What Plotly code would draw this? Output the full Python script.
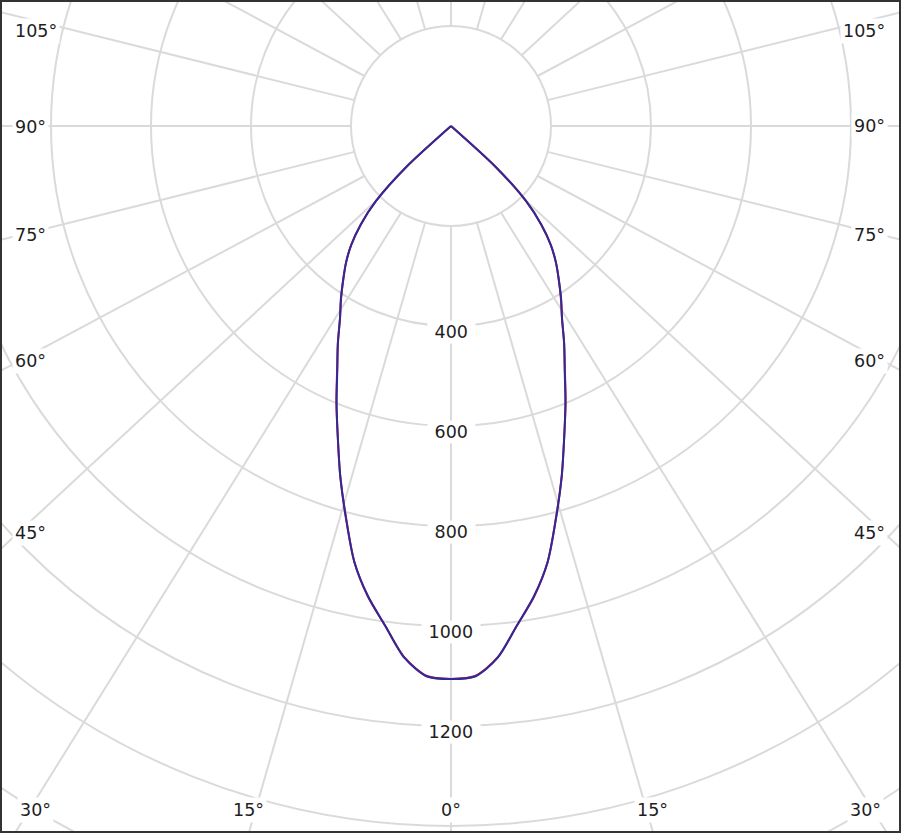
import numpy as np
import plotly.graph_objects as go

# ---------------- data ----------------
gamma_deg = [0, 2.5, 5, 7.5, 10, 12.5, 15, 17.5, 20, 22.5, 25, 27.5, 30, 32.5,
             35, 37.5, 40, 42.5, 45, 47.5, 50, 55, 60, 70, 80, 90]
# luminous intensity (cd) in the C0/C180 plane (blue) and C90/C270 plane (red)
i_c0_c180 = [1106, 1102, 1068, 1008, 955, 893, 812, 736, 662, 598, 538, 490, 444, 410,
             376, 345, 310, 267, 212, 122, 0, 0, 0, 0, 0, 0]
i_c90_c270 = [1106, 1101, 1067, 1008, 956, 893, 811, 736, 662, 599, 539, 490, 444, 409,
              376, 345, 311, 267, 212, 122, 0, 0, 0, 0, 0, 0]

grid_circles = [200, 400, 600, 800, 1000, 1200, 1400, 1600, 1800]
radial_tick_values = [400, 600, 800, 1000, 1200]
angle_lines_deg = [0, 15, 30, 45, 60, 75, 90, 105, 120, 135, 150, 165, 180]

left_angle_labels = ["105°", "90°", "75°", "60°", "45°"]
right_angle_labels = ["105°", "90°", "75°", "60°", "45°"]
bottom_angle_labels = ["30°", "15°", "0°", "15°", "30°"]

# ---------------- layout geometry ----------------
W, H = 901, 833
CX, CY = 451, 126          # pixel position of the diagram centre
PX_PER_CD = 0.5
K = 1.07                   # horizontal spread of the angle rays
R_OUT = 2000

def px_x(px):
    return (px - CX) / PX_PER_CD

def px_y(py):
    return (CY - py) / PX_PER_CD

GRID = "#dadada"
FONT = dict(family="DejaVu Sans", size=17.5, color="#1e1e1e")

fig = go.Figure()

shapes = []
for r in grid_circles:
    shapes.append(dict(type="circle", xref="x", yref="y", x0=-r, x1=r, y0=-r, y1=r,
                       line=dict(color=GRID, width=2), layer="below"))
for a in angle_lines_deg:
    t = np.radians(a)
    sides = [1] if a in (0, 180) else [-1, 1]
    for s in sides:
        x1, y1 = s * 200 * np.sin(t), -200 * np.cos(t)
        x2, y2 = s * K * R_OUT * np.sin(t), -R_OUT * np.cos(t)
        shapes.append(dict(type="line", xref="x", yref="y", x0=x1, y0=y1, x1=x2, y1=y2,
                           line=dict(color=GRID, width=2), layer="below"))
shapes.append(dict(type="rect", xref="paper", yref="paper", x0=0, x1=1, y0=0, y1=1,
                   line=dict(color="#333333", width=4), layer="above"))


def half_curve(vals, side):
    """One half of the polar curve, from gamma 0 up to where it reaches the centre."""
    g = np.radians(np.array(gamma_deg, dtype=float))
    v = np.array(vals, dtype=float)
    xs, ys = [], []
    for gi, vi in zip(g, v):
        x, y = side * vi * np.sin(gi), -vi * np.cos(gi)
        if xs and abs(x - xs[-1]) < 1e-9 and abs(y - ys[-1]) < 1e-9:
            continue
        xs.append(x)
        ys.append(y)
    return xs, ys


for vals, color, name in [(i_c90_c270, "#d0103a", "C90-C270"), (i_c0_c180, "#2e2a98", "C0-C180")]:
    for side in (-1, 1):
        xs, ys = half_curve(vals, side)
        fig.add_trace(go.Scatter(x=xs, y=ys, mode="lines",
                                 line=dict(color=color, width=2, shape="spline", smoothing=0.8),
                                 name=name, hoverinfo="skip"))

annotations = []
for v in radial_tick_values:
    annotations.append(dict(x=0, y=-v, xref="x", yref="y", text="\u00a0" + str(v) + "\u00a0",
                            showarrow=False, bgcolor="white", borderpad=1, yshift=-6, font=FONT))

left_y = [31, 127, 235, 361, 533]
for txt, py in zip(left_angle_labels, left_y):
    annotations.append(dict(x=px_x(12), y=px_y(py), xref="x", yref="y", text=txt, xanchor="left",
                            showarrow=False, bgcolor="white", borderpad=2, font=FONT))
right_y = [31, 126, 235, 361, 533]
for txt, py in zip(right_angle_labels, right_y):
    annotations.append(dict(x=px_x(888), y=px_y(py), xref="x", yref="y", text=txt, xanchor="right",
                            showarrow=False, bgcolor="white", borderpad=2, font=FONT))
bottom_x = [35, 248, 451, 652, 865]
for txt, px in zip(bottom_angle_labels, bottom_x):
    annotations.append(dict(x=px_x(px), y=px_y(810), xref="x", yref="y", text=txt,
                            showarrow=False, bgcolor="white", borderpad=2, font=FONT))

fig.update_layout(
    width=W, height=H,
    margin=dict(l=0, r=0, t=0, b=0),
    paper_bgcolor="white", plot_bgcolor="white",
    showlegend=False,
    xaxis=dict(range=[px_x(0), px_x(W)], visible=False, showgrid=False, zeroline=False, fixedrange=True),
    yaxis=dict(range=[px_y(H), px_y(0)], visible=False, showgrid=False, zeroline=False, fixedrange=True),
    shapes=shapes,
    annotations=annotations,
)

fig.write_html("out.html", config={"displayModeBar": False},
               post_script="document.body.style.margin='0';document.body.style.overflow='hidden';")
